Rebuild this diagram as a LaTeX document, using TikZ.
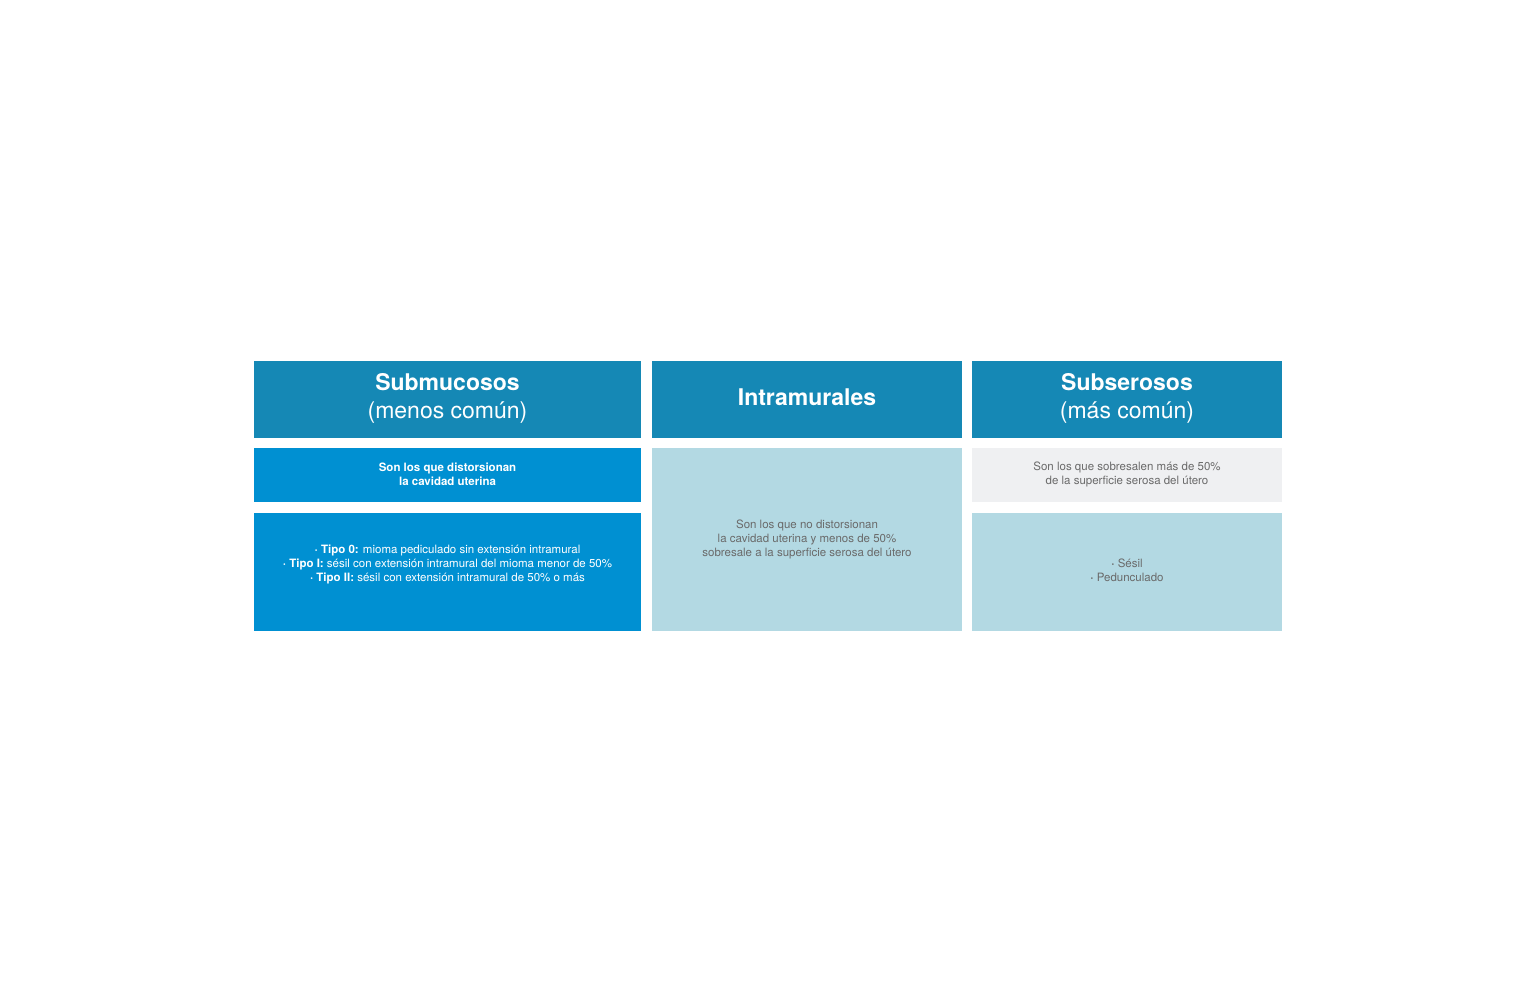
\documentclass[tikz,border=0pt]{standalone}
\usepackage{fontspec}
\setmainfont{TeX Gyre Heros}
\definecolor{headblue}{HTML}{1588B5}
\definecolor{subblue}{HTML}{0090D2}
\definecolor{lightblue}{HTML}{B3D9E3}
\definecolor{lightgray}{HTML}{EFF0F2}
\definecolor{txtgray}{HTML}{6A6A6A}
\newcommand{\bul}{\textbf{·}}
\tikzset{
  cell/.style={draw=none, inner sep=0pt, align=center},
  headtxt/.style={text=white, font=\fontsize{23}{28}\selectfont},
  smallw/.style={text=white, font=\fontsize{11.5}{14}\selectfont},
  smallg/.style={text=txtgray, font=\fontsize{11.5}{14}\selectfont},
}
\begin{document}
\begin{tikzpicture}[x=1pt,y=-1pt]
\useasboundingbox[fill=white] (0,0) rectangle (1536,992);
% column 1
\fill[headblue] (254,361) rectangle (641,438);
\node[cell,headtxt] (h1) at (447.5,398) {\textbf{Submucosos}\\(menos común)};
\fill[subblue] (254,448) rectangle (641,502);
\node[cell,smallw] (d1) at (447.5,474) {\textbf{Son los que distorsionan}\\\textbf{la cavidad uterina}};
\fill[subblue] (254,513) rectangle (641,631);
\node[cell,smallw] (t1) at (447.5,564) {\bul{} \textbf{Tipo 0:} mioma pediculado sin extensión intramural\\\bul{} \textbf{Tipo I:} sésil con extensión intramural del mioma menor de 50\%\\\bul{} \textbf{Tipo II:} sésil con extensión intramural de 50\% o más};
% column 2
\fill[headblue] (652,361) rectangle (962,438);
\node[cell,headtxt] (h2) at (807,397) {\textbf{Intramurales}};
\fill[lightblue] (652,448) rectangle (962,631);
\node[cell,smallg] (d2) at (807,539) {Son los que no distorsionan\\la cavidad uterina y menos de 50\%\\sobresale a la superficie serosa del útero};
% column 3
\fill[headblue] (972,361) rectangle (1282,438);
\node[cell,headtxt] (h3) at (1127,398) {\textbf{Subserosos}\\(más común)};
\fill[lightgray] (972,448) rectangle (1282,502);
\node[cell,smallg] (d3) at (1127,474) {Son los que sobresalen más de 50\%\\de la superficie serosa del útero};
\fill[lightblue] (972,513) rectangle (1282,631);
\node[cell,smallg] (t3) at (1127,570) {\bul{} Sésil\\\bul{} Pedunculado};
\end{tikzpicture}
\end{document}
